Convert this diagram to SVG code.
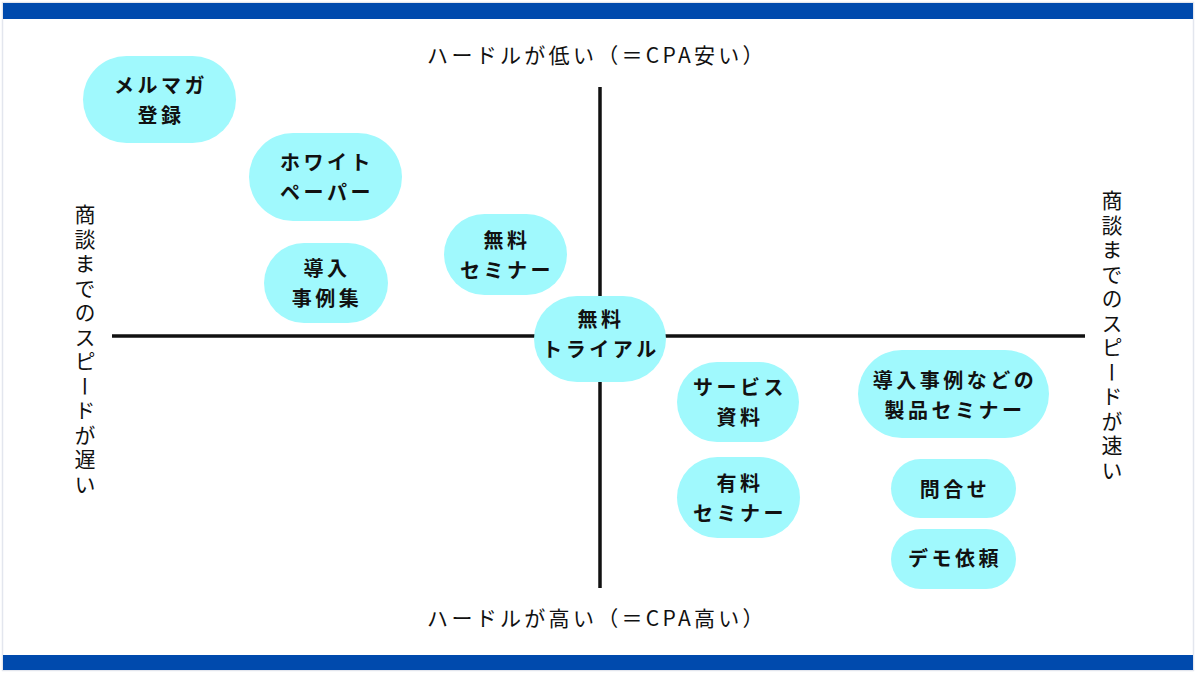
<svg xmlns="http://www.w3.org/2000/svg" width="1200" height="673" viewBox="0 0 1200 673">
<style>
.node rect{fill:#a0f9fd;}
.node text{font-family:"Noto Sans CJK JP","Noto Sans",sans-serif;font-size:20px;font-weight:700;fill:#111;text-anchor:middle;letter-spacing:3.5px;}
.axis{font-family:"Noto Sans CJK JP","Noto Sans",sans-serif;font-size:21px;fill:#111;letter-spacing:3.3px;}
.vert{writing-mode:vertical-rl;text-orientation:upright;letter-spacing:3.5px;}
</style>
<rect x="0" y="0" width="1200" height="673" fill="#ffffff"/>
<rect x="2.5" y="2.5" width="1191" height="668" fill="none" stroke="#e3e6ee" stroke-width="1.5"/>
<rect x="3" y="3" width="1190" height="16" fill="#004aad"/>
<rect x="3" y="655" width="1190" height="15" fill="#004aad"/>
<g id="connectors" stroke="#111" stroke-width="3.5">
<line x1="600" y1="87" x2="600" y2="588"/>
<line x1="112" y1="336" x2="1085" y2="336"/>
</g>
<text class="axis" x="597" y="63" text-anchor="middle">ハードルが低い（＝CPA安い）</text>
<text class="axis" x="597" y="626" text-anchor="middle">ハードルが高い（＝CPA高い）</text>
<text class="axis vert" x="85" y="204">商談までのスピードが遅い</text>
<text class="axis vert" x="1112" y="190">商談までのスピードが速い</text>
<g id="n1" class="node"><rect x="83" y="56" width="153" height="87" rx="43.5"/><text x="161" y="93">メルマガ</text><text x="161" y="123">登録</text></g>
<g id="n2" class="node"><rect x="249" y="133" width="153" height="88" rx="44"/><text x="327" y="170">ホワイト</text><text x="327" y="200">ペーパー</text></g>
<g id="n3" class="node"><rect x="264" y="243" width="124" height="80" rx="40"/><text x="327" y="276">導入</text><text x="327" y="306">事例集</text></g>
<g id="n4" class="node"><rect x="444" y="214" width="123" height="81" rx="40.5"/><text x="507" y="248">無料</text><text x="507" y="278">セミナー</text></g>
<g id="n5" class="node"><rect x="534" y="296" width="132" height="86" rx="43"/><text x="601" y="327">無料</text><text x="601" y="357">トライアル</text></g>
<g id="n6" class="node"><rect x="677" y="362" width="122" height="80" rx="40"/><text x="740" y="395">サービス</text><text x="740" y="425">資料</text></g>
<g id="n7" class="node"><rect x="677" y="457" width="123" height="81" rx="40.5"/><text x="740" y="491">有料</text><text x="740" y="521">セミナー</text></g>
<g id="n8" class="node"><rect x="858" y="350" width="191" height="88" rx="44"/><text x="955" y="388">導入事例などの</text><text x="955" y="418">製品セミナー</text></g>
<g id="n9" class="node"><rect x="891" y="459" width="125" height="59" rx="29.5"/><text x="955" y="497">問合せ</text></g>
<g id="n10" class="node"><rect x="891" y="529" width="125" height="60" rx="30"/><text x="955" y="566">デモ依頼</text></g>
</svg>
